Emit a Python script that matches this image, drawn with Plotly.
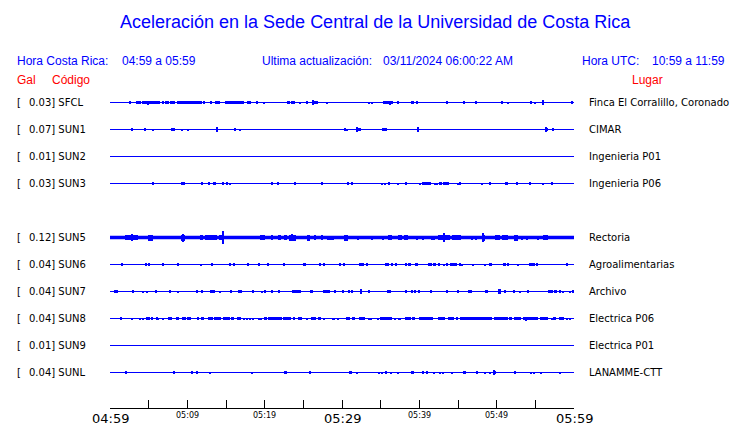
import plotly.graph_objects as go

# ---------------- data ----------------
stations = ["SFCL", "SUN1", "SUN2", "SUN3", "SUN5", "SUN6", "SUN7", "SUN8", "SUN9", "SUNL"]
peak_gal = ["0.03", "0.07", "0.01", "0.03", "0.12", "0.04", "0.04", "0.04", "0.01", "0.04"]
places = ["Finca El Corralillo, Coronado", "CIMAR", "Ingenieria P01", "Ingenieria P06",
          "Rectoria", "Agroalimentarias", "Archivo", "Electrica P06", "Electrica P01", "LANAMME-CTT"]
row_slot = [0, 1, 2, 3, 5, 6, 7, 8, 9, 10]          # SUN4 slot (4) is empty
tick_minutes = [0, 5, 10, 15, 20, 25, 30, 35, 40, 45, 50, 55, 60]
tick_labels = {0: "04:59", 10: "05:09", 20: "05:19", 30: "05:29", 40: "05:39", 50: "05:49", 60: "05:59"}
major_labels = ["04:59", "05:29", "05:59"]

# events: (minute, amplitude) spike  or  (start, end, amplitude) burst ; minutes after 04:59
ev_SFCL = [(2.59, 1.3), (3.36, 3.97, 1.3), (4.18, 6.47, 1.3), (4.96, 2.0), (6.68, 7.03, 1.3), (7.24, 1.2),
           (7.54, 1.2), (7.76, 8.41, 1.3), (8.62, 11.85, 1.3), (11.8, 1.8), (12.07, 12.28, 1.3),
           (12.93, 13.23, 1.3), (13.58, 14.22, 1.3), (14.87, 17.37, 1.3), (17.67, 18.19, 1.3),
           (18.88, 19.09, 1.3), (19.91, 1.0), (22.93, 23.28, 1.3), (23.58, 1.3), (23.84, 1.3),
           (24.57, 1.0), (25.43, 25.65, 1.3), (26.08, 26.94, 1.3), (26.29, 2.2), (28.02, 1.0),
           (33.53, 1.0), (33.88, 1.0), (35.34, 36.64, 1.3), (36.21, 2.0), (37.2, 1.3),
           (38.92, 39.27, 1.3), (39.66, 1.2), (43.53, 1.2), (45.78, 1.3), (47.28, 1.3),
           (50.73, 1.2), (51.51, 1.0), (54.4, 1.3), (54.96, 1.0), (56.03, 2.7), (59.7, 1.3)]
ev_SUN1 = [(2.72, 2.97, 1.5), (4.40, 4.61, 1.5), (5.60, 1.0), (7.97, 1.3), (8.32, 1.3), (9.27, 1.0),
           (10.13, 1.0), (13.88, 2.7), (16.16, 1.3), (16.81, 1.0), (30.39, 1.3), (30.60, 1.0),
           (31.77, 32.46, 1.7), (32.0, 2.2), (35.13, 35.78, 1.7), (39.87, 2.7), (56.25, 56.68, 1.7),
           (56.34, 2.9), (57.33, 1.3)]
ev_SUN2 = []
ev_SUN3 = [(5.52, 1.3), (9.22, 9.70, 1.5), (11.85, 1.3), (12.80, 1.3), (13.36, 13.66, 1.3),
           (14.44, 14.78, 1.5), (15.17, 1.3), (15.52, 1.0), (20.91, 1.3), (21.77, 1.3), (23.92, 1.3),
           (27.37, 1.3), (30.82, 1.3), (31.34, 1.3), (35.22, 1.0), (35.56, 1.0), (35.99, 36.16, 1.5),
           (37.28, 1.0), (38.28, 1.3), (40.09, 1.0), (40.39, 41.51, 1.5), (42.03, 1.0), (42.24, 1.0),
           (42.59, 42.97, 1.5), (43.10, 43.62, 1.5), (43.75, 1.3), (44.96, 1.0), (45.13, 45.39, 1.5),
           (48.06, 1.0), (49.14, 1.3), (51.08, 51.51, 1.3), (52.46, 52.72, 1.5), (54.18, 54.44, 1.5),
           (56.03, 1.0), (57.03, 57.2, 1.5)]
ev_SUN5 = [(1.94, 3.66, 2.5), (2.89, 3.5), (4.96, 5.60, 3.0), (6.25, 1.9), (6.68, 1.9), (7.46, 1.9),
           (9.18, 9.70, 3.0), (9.48, 4.0), (11.64, 12.07, 2.3), (12.28, 13.15, 2.3), (13.23, 13.79, 2.6),
           (14.09, 14.78, 2.6), (14.66, 6.5), (19.40, 20.04, 2.5), (20.78, 21.12, 2.2),
           (21.68, 22.11, 2.2), (22.50, 22.93, 2.2), (23.15, 24.01, 3.0), (23.6, 3.8), (25.43, 25.86, 3.0),
           (26.38, 26.64, 2.2), (27.28, 27.59, 2.2), (28.02, 28.97, 2.0), (30.26, 30.82, 3.0),
           (32.11, 2.0), (33.84, 2.0), (35.34, 2.0), (35.91, 36.42, 2.5), (37.28, 37.72, 2.2),
           (38.06, 38.58, 2.2), (39.66, 2.0), (40.52, 2.0), (41.51, 42.03, 2.0), (42.46, 43.97, 2.8),
           (43.2, 4.2), (44.18, 45.39, 2.2), (46.77, 2.0), (47.28, 2.0), (48.06, 48.49, 3.0), (48.2, 4.5),
           (49.78, 50.43, 2.2), (50.65, 51.51, 2.5), (52.2, 52.72, 3.0), (53.23, 2.0), (53.88, 2.0),
           (55.39, 2.0), (56.03, 56.68, 2.8)]
ev_SUN6 = [(1.59, 1.3), (4.66, 1.3), (5.09, 1.3), (6.90, 1.3), (8.84, 1.3), (11.72, 1.0), (13.23, 1.3),
           (15.56, 1.3), (15.95, 16.08, 1.3), (17.80, 1.3), (19.31, 1.3), (20.47, 1.3), (22.54, 1.3),
           (25.0, 25.3, 1.3), (27.07, 27.24, 1.3), (27.67, 27.80, 1.3), (29.66, 29.83, 1.3),
           (30.17, 30.39, 1.3), (32.24, 32.84, 1.3), (33.19, 1.3), (35.56, 36.08, 1.3), (36.51, 1.3),
           (36.94, 1.3), (38.15, 38.36, 1.7), (38.66, 38.88, 1.3), (39.44, 39.78, 1.3),
           (41.16, 41.59, 1.3), (41.81, 42.11, 1.3), (42.46, 42.67, 1.3), (43.23, 1.0), (43.53, 1.3),
           (43.97, 44.83, 1.3), (45.26, 1.3), (45.56, 1.0), (46.90, 1.0), (48.49, 1.0),
           (49.01, 49.35, 1.7), (50.86, 51.16, 1.3), (51.51, 1.3), (52.72, 1.0), (54.22, 54.96, 1.7),
           (55.17, 55.39, 1.3), (59.05, 1.3)]
ev_SUN7 = [(0.56, 0.99, 1.5), (2.93, 1.3), (4.31, 1.0), (4.78, 1.0), (5.82, 6.03, 1.3), (7.76, 1.3),
           (8.75, 1.0), (11.21, 1.3), (11.85, 1.3), (12.93, 13.58, 1.5), (14.22, 1.0), (15.60, 1.3),
           (16.59, 17.03, 1.5), (18.45, 1.3), (19.61, 1.0), (19.96, 20.22, 1.3), (20.91, 1.3),
           (21.77, 21.98, 1.3), (23.58, 24.66, 1.5), (25.99, 26.21, 1.3), (27.59, 28.15, 1.7),
           (28.36, 1.3), (29.09, 1.3), (30.04, 30.30, 1.7), (30.95, 1.3), (31.25, 1.3),
           (32.33, 32.63, 2.2), (33.49, 1.3), (35.86, 36.34, 1.5), (38.28, 1.3), (39.09, 1.3),
           (39.44, 1.3), (39.96, 1.3), (41.51, 1.3), (43.53, 1.3), (44.96, 1.3), (46.25, 46.77, 1.3),
           (48.49, 48.92, 1.5), (50.13, 50.56, 2.2), (51.08, 1.3), (52.28, 1.3), (53.02, 1.0),
           (54.01, 1.3), (56.59, 57.33, 1.3), (57.46, 57.76, 1.5), (58.19, 58.32, 1.3), (58.62, 1.0),
           (59.48, 1.0), (59.78, 60.0, 1.5)]
ev_SUN8 = [(1.42, 1.3), (2.80, 1.0), (3.88, 1.0), (4.31, 1.0), (4.70, 5.17, 1.3), (5.39, 5.60, 1.3),
           (6.03, 1.3), (6.25, 1.0), (6.81, 1.0), (7.54, 7.97, 1.3), (8.53, 8.92, 1.3), (9.27, 9.83, 1.3),
           (10.0, 10.43, 1.3), (11.21, 11.55, 1.3), (11.77, 12.16, 1.3), (12.72, 13.36, 1.3),
           (13.45, 14.31, 1.3), (14.66, 15.52, 1.3), (15.65, 16.08, 1.3), (16.38, 16.94, 1.3),
           (17.24, 17.46, 1.0), (17.67, 1.0), (18.10, 1.0), (18.53, 1.0), (19.09, 19.61, 1.0),
           (19.91, 20.26, 1.3), (20.47, 22.20, 1.3), (22.41, 23.36, 1.3), (23.71, 23.92, 1.3),
           (24.35, 24.87, 1.3), (25.43, 1.0), (25.99, 26.59, 1.3), (26.94, 27.24, 1.3),
           (27.59, 27.80, 1.0), (28.66, 29.09, 1.0), (29.44, 1.0), (30.52, 31.03, 1.3),
           (31.34, 31.68, 1.3), (32.24, 32.97, 1.3), (33.41, 33.84, 1.0), (34.57, 34.83, 1.0),
           (34.91, 36.42, 1.3), (36.85, 1.0), (37.28, 37.59, 1.0), (38.15, 38.92, 1.3),
           (39.09, 39.44, 1.3), (39.96, 41.08, 1.3), (41.16, 41.81, 1.3), (42.37, 43.32, 1.3),
           (43.66, 44.53, 1.3), (44.83, 45.04, 1.3), (45.26, 49.35, 1.3), (49.70, 51.42, 1.3),
           (51.64, 52.03, 1.3), (52.28, 53.15, 1.3), (53.45, 55.39, 1.3), (53.75, 2.0),
           (55.60, 56.68, 1.3), (57.11, 1.0), (57.33, 57.63, 1.3), (58.06, 58.75, 1.3), (59.05, 1.0),
           (59.48, 1.0)]
ev_SUN9 = []
ev_SUNL = [(1.94, 2.16, 1.5), (8.32, 1.3), (10.65, 1.3), (11.21, 1.3), (12.93, 1.0), (18.41, 1.0),
           (22.5, 22.84, 1.3), (25.86, 1.3), (30.91, 31.25, 1.3), (31.98, 1.0), (34.78, 1.0),
           (35.22, 1.0), (35.56, 35.78, 1.3), (36.29, 1.0), (37.2, 1.0), (38.92, 39.35, 1.3),
           (40.52, 1.3), (40.82, 41.08, 1.3), (41.90, 1.0), (42.67, 1.0), (43.10, 1.0),
           (44.18, 1.0), (45.60, 45.99, 1.3), (47.41, 47.63, 1.3), (48.49, 1.0), (49.14, 1.0),
           (49.57, 49.87, 1.5), (49.7, 2.4), (52.37, 1.3), (54.44, 1.0), (54.87, 1.0), (55.73, 1.0),
           (58.19, 1.0)]
events = [ev_SFCL, ev_SUN1, ev_SUN2, ev_SUN3, ev_SUN5, ev_SUN6, ev_SUN7, ev_SUN8, ev_SUN9, ev_SUNL]

# ---------------- layout constants (reference-page pixels) ----------------
PAGE_W, PAGE_H = 740, 423
OFF = 8                                  # default body margin of the html page
W, H = PAGE_W - OFF, PAGE_H - OFF
PL, PR, PT, PB = 110, 574, 90, 408       # plot area in page pixels
ROW0, ROW_PX = 102.5, 27                 # first row centre / spacing (px)
BLUE, RED = "#0000ff", "#ff0000"
SPIKE_W = 0.14                           # minutes (~1 px)

y_top = (ROW0 - PT) / ROW_PX
y_bot = -(PB - ROW0) / ROW_PX


def px_x(px):
    return (px - PL) / (PR - PL)


def px_y(py):
    return (PB - py) / (PB - PT)


fig = go.Figure()

bx, bw, bb, bh = [], [], [], []
for k, evs in zip(row_slot, events):
    lw = 3.4 if k == 5 else 1.0
    fig.add_trace(go.Scatter(x=[0, 60], y=[-k, -k], mode="lines",
                             line=dict(color=BLUE, width=lw), hoverinfo="skip", showlegend=False))
    for e in evs:
        if len(e) == 2:
            t0 = t1 = e[0]
            a = e[1]
        else:
            t0, t1, a = e
        w = max(t1 - t0, SPIKE_W)
        amp = a / ROW_PX
        bx.append((t0 + t1) / 2)
        bw.append(w)
        bb.append(-k - amp)
        bh.append(2 * amp)

fig.add_trace(go.Bar(x=bx, y=bh, base=bb, width=bw, marker=dict(color=BLUE, line=dict(width=0)),
                     hoverinfo="skip", showlegend=False))

ann = []
# header
ann.append(dict(text="Aceleración en la Sede Central de la Universidad de Costa Rica", x=px_x(375), y=px_y(22),
                xanchor="center", font=dict(size=18, color=BLUE, family="Liberation Sans")))
hdr = [("Hora Costa Rica:", 15), ("04:59 a 05:59", 120), ("Ultima actualización:", 260),
       ("03/11/2024 06:00:22 AM", 381), ("Hora UTC:", 580), ("10:59 a 11:59", 650)]
for txt, px in hdr:
    ann.append(dict(text=txt, x=px_x(px), y=px_y(61), xanchor="left",
                    font=dict(size=12, color=BLUE, family="Liberation Sans")))
for txt, px in [("Gal", 15), ("Código", 50), ("Lugar", 630)]:
    ann.append(dict(text=txt, x=px_x(px), y=px_y(80), xanchor="left",
                    font=dict(size=12, color=RED, family="Liberation Sans")))
for a in ann:
    a.update(xref="paper", yref="paper", yanchor="middle", showarrow=False)

# row labels
for k, st, g, pl in zip(row_slot, stations, peak_gal, places):
    for txt, px in [("[", 15), (f"{g}] {st}", 27), (pl, 587)]:
        ann.append(dict(text=txt, x=px_x(px), y=-k, xref="paper", yref="y", xanchor="left",
                        yanchor="middle", showarrow=False,
                        font=dict(size=10, color="black", family="DejaVu Sans")))

# time labels
for m, lab in tick_labels.items():
    big = lab in major_labels
    ann.append(dict(text=lab, x=m, y=px_y(418 if big else 415.5), xref="x", yref="paper",
                    xanchor="center", yanchor="middle", showarrow=False,
                    font=dict(size=13 if big else 8, color="black", family="DejaVu Sans")))

fig.update_layout(
    width=W, height=H, margin=dict(l=PL - OFF, r=PAGE_W - PR, t=PT - OFF, b=PAGE_H - PB),
    paper_bgcolor="white", plot_bgcolor="white", barmode="overlay", bargap=0,
    annotations=ann, showlegend=False,
    xaxis=dict(range=[0, 60], tickvals=tick_minutes, showticklabels=False, ticks="inside", ticklen=8,
               tickcolor="black", tickwidth=1, showline=True, linecolor="black", linewidth=1,
               showgrid=False, zeroline=False, fixedrange=True, automargin=False),
    yaxis=dict(range=[y_bot, y_top], visible=False, showgrid=False, zeroline=False, fixedrange=True,
               automargin=False),
)

fig.write_html("out.html")
